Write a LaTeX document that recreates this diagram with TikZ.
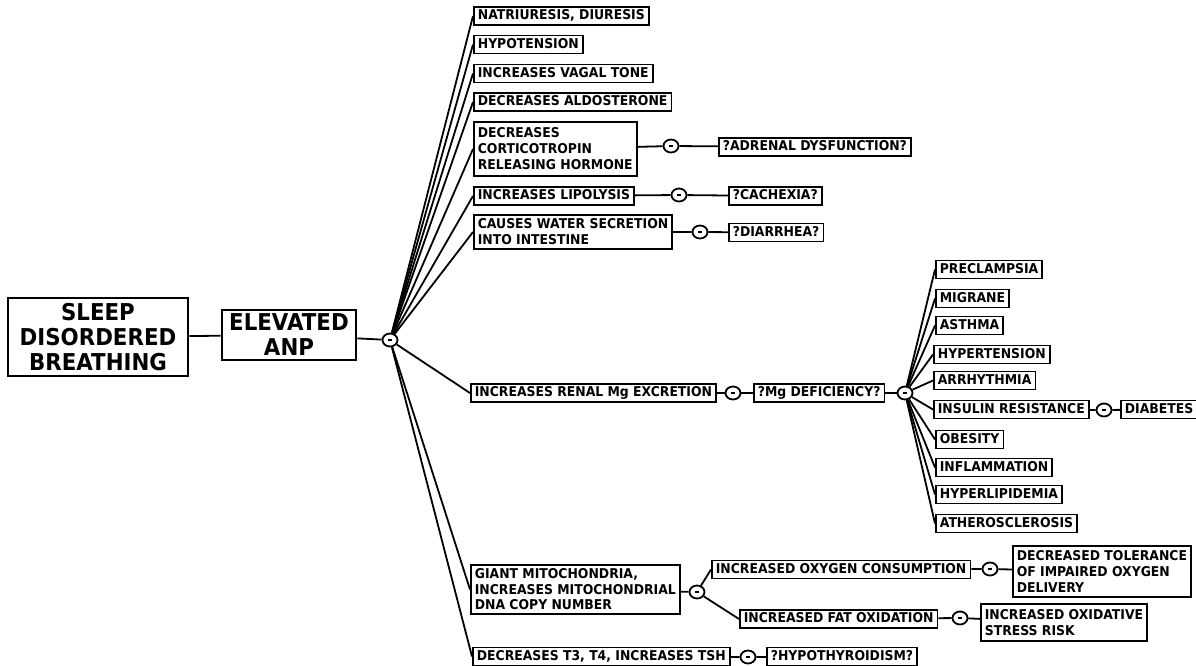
\documentclass[tikz,border=0pt]{standalone}
\usepackage{fontspec}
\setmainfont{DejaVu Sans}[FakeStretch=0.92]
\usetikzlibrary{shapes.geometric}
\begin{document}
\begin{tikzpicture}[x=1pt,y=-1pt,
  box/.style={draw, line width=1.7pt, fill=white,
    font=\bfseries\fontsize{13.5}{16}\selectfont, align=left,
    inner xsep=4pt, inner ysep=3pt, anchor=west},
  item/.style={box, text height=9.8pt, text depth=2.2pt},
  big/.style={draw, line width=2.8pt, fill=white,
    font=\bfseries\fontsize{23.2}{25}\selectfont, align=center, inner sep=3pt},
  joint/.style={ellipse, draw, line width=1.8pt, fill=white,
    minimum width=15pt, minimum height=13pt, inner sep=0pt,
    execute at begin node={\rule{4pt}{1.6pt}}},
  link/.style={line width=1.8pt},
]
\useasboundingbox (0,0) rectangle (1196,665);

% root and cause
\node[big, minimum width=180pt, minimum height=78pt] (sdb) at (98,337) {SLEEP\\DISORDERED\\BREATHING};
\node[big, minimum width=134pt, minimum height=50pt] (anp) at (289,335) {ELEVATED\\ANP};
\node[joint] (h) at (390,340) {};

% effects of elevated ANP
\node[item] (n1) at (473,16) {NATRIURESIS, DIURESIS};
\node[item] (n2) at (473,44.5) {HYPOTENSION};
\node[item] (n3) at (473,73.5) {INCREASES VAGAL TONE};
\node[item] (n4) at (473,102) {DECREASES ALDOSTERONE};
\node[box, minimum height=54pt] (n5) at (473,149) {DECREASES\\CORTICOTROPIN\\RELEASING HORMONE};
\node[item] (n6) at (473,196) {INCREASES LIPOLYSIS};
\node[box, minimum height=34pt] (n7) at (473,232) {CAUSES WATER SECRETION\\INTO INTESTINE};
\node[item] (n8) at (470,393) {INCREASES RENAL Mg EXCRETION};
\node[box, minimum height=49pt, font=\bfseries\fontsize{13.5}{15.5}\selectfont] (n9) at (470,589.5) {GIANT MITOCHONDRIA,\\INCREASES MITOCHONDRIAL\\DNA COPY NUMBER};
\node[item] (n10) at (472,656.5) {DECREASES T3, T4, INCREASES TSH};

% consequences
\node[joint] (j5) at (671,146) {};
\node[item] (r5) at (718,147) {?ADRENAL DYSFUNCTION?};
\node[joint] (j6) at (679,195) {};
\node[item] (r6) at (728,196) {?CACHEXIA?};
\node[joint] (j7) at (700,232) {};
\node[item] (r7) at (728,232.5) {?DIARRHEA?};
\node[joint] (j8) at (733,393) {};
\node[item] (r8) at (753,393) {?Mg DEFICIENCY?};
\node[joint] (h2) at (905,393) {};

% magnesium deficiency cluster
\node[item] (c1) at (935,269.5) {PRECLAMPSIA};
\node[item] (c2) at (935,298.5) {MIGRANE};
\node[item] (c3) at (935,325.5) {ASTHMA};
\node[item] (c4) at (933,354.5) {HYPERTENSION};
\node[item] (c5) at (933,380.5) {ARRHYTHMIA};
\node[item] (c6) at (933,409.5) {INSULIN RESISTANCE};
\node[item] (c7) at (935,439.5) {OBESITY};
\node[item] (c8) at (935,467.5) {INFLAMMATION};
\node[item] (c9) at (935,494.5) {HYPERLIPIDEMIA};
\node[item] (c10) at (935,523.5) {ATHEROSCLEROSIS};
\node[joint] (jd) at (1104,410) {};
\node[item] (d) at (1120,409.5) {DIABETES};

% mitochondria branch
\node[joint] (j9) at (697,592) {};
\node[item] (o1) at (711,569.5) {INCREASED OXYGEN CONSUMPTION};
\node[joint] (jo1) at (990,569) {};
\node[box, minimum height=51pt] (o1r) at (1012,571.5) {DECREASED TOLERANCE\\OF IMPAIRED OXYGEN\\DELIVERY};
\node[item] (o2) at (739,619) {INCREASED FAT OXIDATION};
\node[joint] (jo2) at (960,618) {};
\node[box, minimum height=37pt] (o2r) at (980,622.5) {INCREASED OXIDATIVE\\STRESS RISK};

% thyroid branch
\node[joint] (j10) at (748,657) {};
\node[item] (r10) at (766,656.5) {?HYPOTHYROIDISM?};

% connectors
\begin{scope}[link]
\draw (sdb) -- (anp);
\draw (anp) -- (h);
\foreach \n in {n1,n2,n3,n4,n5,n6,n7,n8,n9,n10}
  \draw (h) -- (\n.west);
\draw (n5) -- (j5) -- (r5);
\draw (n6) -- (j6) -- (r6);
\draw (n7) -- (j7) -- (r7);
\draw (n8) -- (j8) -- (r8) -- (h2);
\foreach \c in {c1,c2,c3,c4,c5,c6,c7,c8,c9,c10}
  \draw (h2) -- (\c.west);
\draw (c6) -- (jd) -- (d);
\draw (n9) -- (j9);
\draw (j9) -- (o1.west);
\draw (j9) -- (o2.west);
\draw (o1) -- (jo1) -- (o1r);
\draw (o2) -- (jo2) -- (o2r);
\draw (n10) -- (j10) -- (r10);
\end{scope}
\end{tikzpicture}
\end{document}
